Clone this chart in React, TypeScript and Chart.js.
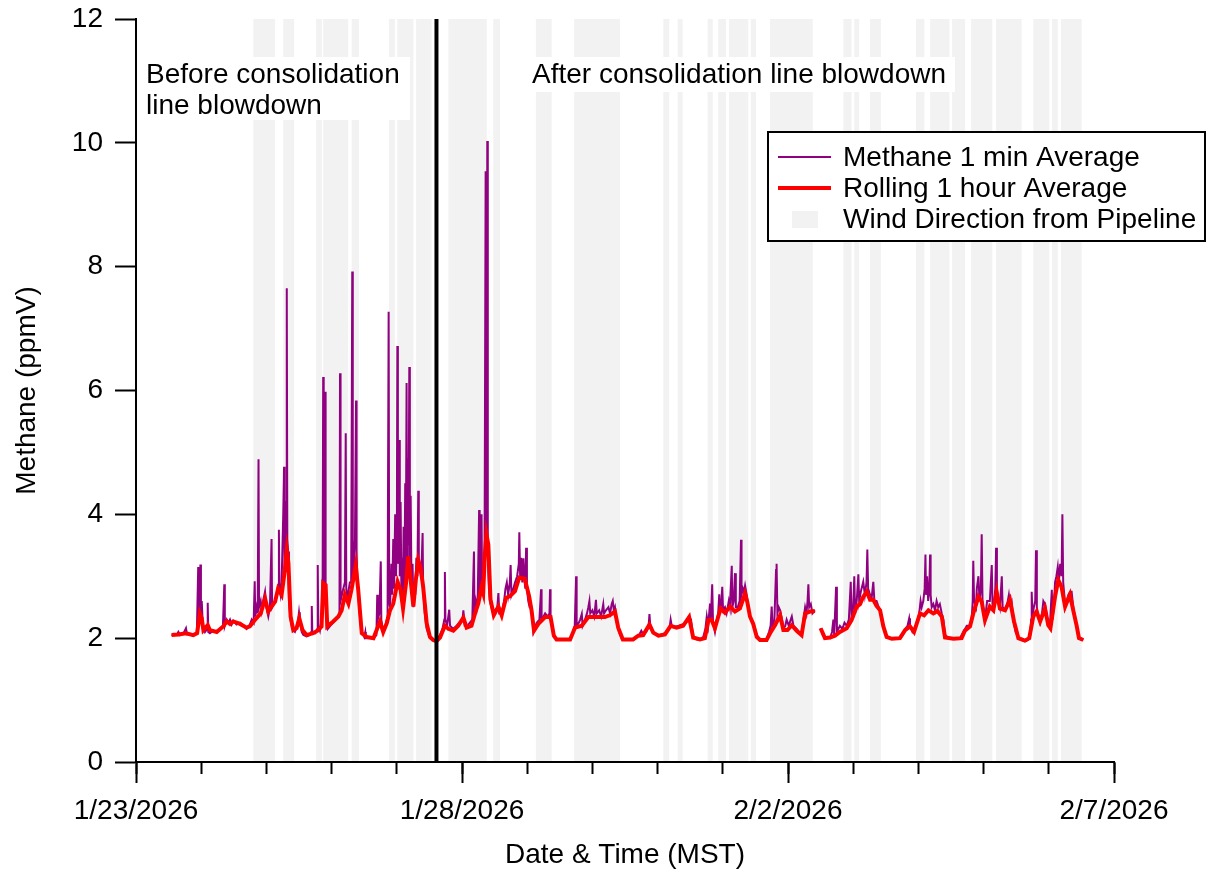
import React, { useEffect, useRef } from 'react';
import { Chart, registerables } from 'chart.js';

Chart.register(...registerables);

const FONT = '"Liberation Sans", Arial, Helvetica, sans-serif';
const PURPLE = 'rgb(144,0,128)';
const RED = '#ff0000';
const BAND_COLOR = '#f2f2f2';

// x values are hours since 1/23/2026 00:00 MST
const X_MIN_HOURS = 0;
const X_MAX_HOURS = 360;
const MAJOR_STEP_HOURS = 120;
const MINOR_STEP_HOURS = 24;
const Y_MIN = 0;
const Y_MAX = 12;
const Y_STEP = 2;
const BLOWDOWN_HOUR = 110.6;
const GAP_HOUR = 251;

const X_TITLE = 'Date & Time (MST)';
const Y_TITLE = 'Methane (ppmV)';
const METHANE_LABEL = 'Methane 1 min Average';
const ROLLING_LABEL = 'Rolling 1 hour Average';
const WIND_LABEL = 'Wind Direction from Pipeline';
const BEFORE_TEXT = ['Before consolidation', 'line blowdown'];
const AFTER_TEXT = ['After consolidation line blowdown'];

// Methane 1 min average [hour, ppmV]
const methaneEarly: [number, number][] = [
  [13.1, 2.04], [14.0, 2.07], [15.0, 2.05], [15.6, 2.1], [16.2, 2.05], [17.5, 2.08], [18.4, 2.16], [18.8, 2.06],
  [20.0, 2.07], [21.1, 2.05], [22.4, 2.1], [22.9, 3.15], [23.1, 2.2], [23.3, 2.9], [23.5, 2.3], [23.7, 3.19],
  [23.9, 2.4], [24.2, 2.6], [24.6, 2.2], [25.4, 2.1], [26.2, 2.15], [26.4, 2.57], [26.6, 2.1], [27.2, 2.08],
  [28.5, 2.12], [29.7, 2.1], [30.8, 2.15], [32.0, 2.2], [32.5, 2.87], [32.7, 2.2], [33.4, 2.3], [34.0, 2.25],
  [34.6, 2.3], [35.2, 2.22], [35.8, 2.28], [37.0, 2.22], [38.3, 2.25], [39.5, 2.2], [40.7, 2.15], [41.9, 2.22],
  [42.6, 2.3], [43.3, 2.25], [43.7, 2.92], [43.9, 2.35], [44.4, 2.5], [44.8, 2.4], [45.1, 4.89], [45.3, 2.5],
  [45.9, 2.6], [46.3, 2.45], [46.8, 2.6], [47.5, 2.75], [48.0, 2.5], [48.7, 2.35], [49.3, 2.5], [49.9, 3.6],
  [50.1, 2.5], [50.6, 2.55], [51.2, 2.6], [51.8, 2.7], [52.3, 2.85], [52.6, 3.75], [52.8, 2.8], [53.2, 2.7],
  [53.6, 2.9], [54.2, 4.0], [54.5, 4.77], [54.7, 3.0], [55.1, 3.3], [55.3, 4.2], [55.5, 7.65], [55.7, 3.6],
  [56.0, 3.4], [56.3, 2.6], [56.9, 2.3], [57.5, 2.15], [58.5, 2.1], [59.4, 2.2], [60.0, 2.42], [60.3, 2.3],
  [61.0, 2.1], [61.6, 2.05], [62.8, 2.03], [64.0, 2.05], [64.5, 2.1], [64.7, 2.52], [64.9, 2.1], [66.0, 2.08],
  [66.7, 2.15], [66.9, 3.18], [67.1, 2.2], [67.7, 2.12], [68.3, 2.3], [68.7, 3.0], [68.9, 6.22], [69.1, 3.0],
  [69.4, 2.7], [69.6, 5.98], [69.8, 2.9], [70.2, 2.4], [70.6, 2.15], [71.5, 2.2], [72.6, 2.25], [73.5, 2.3],
  [74.5, 2.35], [74.9, 2.4], [75.1, 6.28], [75.3, 2.6], [75.8, 2.7], [76.3, 2.8], [76.9, 2.9], [77.2, 5.31],
  [77.4, 2.8], [77.9, 2.6], [78.2, 2.75], [78.7, 2.9], [79.2, 2.9], [79.6, 7.92], [79.8, 3.0], [80.2, 3.2],
  [80.6, 3.6], [81.0, 5.84], [81.2, 3.4], [81.5, 2.9], [81.9, 2.7], [82.5, 2.3], [83.1, 2.1], [84.0, 2.02],
  [84.4, 2.1], [84.6, 2.0], [86.1, 2.0], [87.4, 2.0], [88.5, 2.05], [88.8, 2.7], [89.0, 2.3], [89.6, 2.4],
  [90.1, 3.24], [90.3, 2.3], [91.0, 2.1], [91.8, 2.2], [92.6, 2.35], [93.0, 7.27], [93.2, 2.6], [93.5, 2.5],
  [94.0, 3.2], [94.3, 2.7], [94.7, 3.6], [95.0, 2.8], [95.4, 4.0], [95.7, 3.0], [96.0, 3.5], [96.2, 6.72],
  [96.4, 3.2], [96.7, 3.8], [96.9, 5.2], [97.1, 3.0], [97.4, 4.2], [97.7, 2.7], [98.0, 3.3], [98.2, 2.5],
  [98.5, 3.8], [98.8, 2.8], [99.1, 4.5], [99.3, 3.0], [99.6, 6.12], [99.8, 3.2], [100.0, 4.9], [100.3, 3.5],
  [100.6, 6.38], [100.8, 3.1], [101.1, 4.3], [101.4, 2.8], [101.8, 3.2], [102.1, 2.5], [102.5, 2.9], [102.8, 2.7],
  [103.2, 3.3], [103.6, 3.0], [103.9, 4.38], [104.1, 3.2], [104.5, 3.1], [105.0, 3.0], [105.5, 3.7], [105.7, 2.8],
  [106.3, 2.4], [107.0, 2.15], [108.2, 2.0], [109.4, 1.97], [110.3, 1.95],
];

const methaneLate1: [number, number][] = [
  [110.8, 1.97], [111.9, 2.05], [112.8, 2.15], [113.5, 2.3], [113.7, 3.07], [113.9, 2.3], [114.5, 2.2], [115.3, 2.46],
  [115.6, 2.2], [116.8, 2.15], [118.0, 2.2], [119.0, 2.25], [120.2, 2.3], [120.5, 2.45], [121.0, 2.2], [122.0, 2.2],
  [122.9, 2.25], [123.8, 2.3], [124.4, 3.4], [124.6, 2.4], [125.0, 2.6], [125.4, 2.5], [125.8, 2.7], [126.3, 4.07],
  [126.5, 2.7], [126.9, 2.9], [127.2, 4.0], [127.4, 2.8], [127.8, 2.9], [128.3, 3.2], [128.7, 9.54], [128.9, 3.4],
  [129.1, 3.6], [129.3, 10.03], [129.5, 3.3], [129.9, 2.8], [130.3, 2.6], [130.8, 2.5], [131.5, 2.4], [132.2, 2.45],
  [133.0, 2.5], [133.4, 2.73], [133.7, 2.4], [134.6, 2.4], [135.5, 2.6], [136.0, 2.8], [136.5, 2.9], [137.0, 2.7],
  [137.6, 2.9], [137.9, 3.18], [138.2, 2.7], [138.9, 2.8], [139.5, 2.9], [140.3, 3.0], [140.9, 3.2], [141.1, 3.71],
  [141.4, 3.0], [141.8, 3.3], [142.2, 2.9], [142.6, 3.29], [142.9, 3.0], [143.3, 2.8], [143.6, 3.46], [143.9, 2.8],
  [144.4, 2.6], [144.9, 2.5], [145.5, 2.5], [146.0, 2.3], [146.3, 2.1], [147.0, 2.2], [147.5, 2.25], [148.5, 2.3],
  [149.1, 2.79], [149.3, 2.3], [150.0, 2.35], [150.6, 2.4], [151.5, 2.35], [152.2, 2.4], [152.4, 2.79], [152.6, 2.35],
  [153.2, 2.2], [153.8, 2.05], [154.8, 1.98], [156.5, 1.98], [158.0, 1.98], [159.8, 1.98], [160.8, 2.1], [161.5, 2.2],
  [162.0, 3.0], [162.2, 2.2], [163.0, 2.25], [163.5, 2.3], [164.1, 2.39], [164.4, 2.2], [165.3, 2.3], [166.0, 2.4],
  [166.5, 2.5], [166.9, 2.6], [167.2, 2.4], [168.0, 2.45], [168.7, 2.35], [169.3, 2.62], [169.6, 2.4], [170.5, 2.45],
  [171.2, 2.35], [172.0, 2.55], [172.3, 2.4], [173.0, 2.45], [173.9, 2.5], [174.5, 2.4], [175.1, 2.55], [175.5, 2.6],
  [175.9, 2.45], [176.3, 2.5], [177.0, 2.25], [177.8, 2.1], [178.8, 1.99], [181.0, 1.98], [183.0, 1.98], [184.3, 2.03],
  [185.3, 2.06], [186.0, 2.12], [186.7, 2.06], [187.8, 2.1], [188.7, 2.2], [189.0, 2.39], [189.3, 2.2], [190.3, 2.1],
  [191.7, 2.05], [193.0, 2.05], [194.1, 2.07], [195.5, 2.1], [196.5, 2.2], [196.8, 2.3], [197.2, 2.2], [198.5, 2.18],
  [199.8, 2.2], [201.0, 2.22], [202.5, 2.25], [203.6, 2.35], [204.3, 2.3], [205.1, 2.02], [206.5, 1.98], [207.6, 1.98],
  [208.8, 2.02], [209.6, 2.15], [210.1, 2.35], [210.6, 2.2], [211.3, 2.56], [211.6, 2.3], [212.1, 2.87], [212.4, 2.25],
  [213.1, 2.1], [213.8, 2.3], [214.3, 2.4], [214.7, 2.71], [215.0, 2.4], [215.5, 2.6], [215.8, 2.83], [216.1, 2.45],
  [216.8, 2.5], [217.4, 2.4], [218.2, 2.6], [218.6, 2.5], [219.3, 3.17], [219.5, 2.5], [220.0, 2.6], [220.5, 3.05],
  [220.8, 2.5], [221.5, 2.5], [222.2, 2.6], [222.7, 3.59], [222.9, 2.7], [223.4, 2.8], [223.8, 2.75], [224.2, 2.85],
  [224.8, 2.7], [225.4, 2.5], [226.0, 2.35], [227.2, 2.25], [228.5, 2.05], [229.7, 1.98], [231.0, 1.97], [232.1, 1.98],
  [233.0, 2.1], [233.6, 2.2], [234.0, 2.51], [234.3, 2.2], [235.0, 2.3], [235.6, 3.1], [235.8, 3.2], [236.1, 2.4],
  [236.6, 2.5], [237.1, 2.45], [237.8, 2.3], [238.3, 2.15], [239.0, 2.2], [239.5, 2.3], [240.3, 2.2], [241.0, 2.3],
  [241.4, 2.35], [242.0, 2.2], [243.2, 2.15], [244.0, 2.1], [245.0, 2.05], [245.7, 2.3], [246.3, 2.5], [246.8, 2.4],
  [247.2, 2.6], [247.5, 2.87], [247.8, 2.5], [248.4, 2.55], [249.0, 2.4], [249.9, 2.45],
];

const methaneLate2: [number, number][] = [
  [252.0, 2.16], [252.8, 2.05], [253.6, 2.0], [254.5, 2.02], [255.5, 2.0], [256.2, 2.1], [256.7, 2.3], [257.0, 2.05],
  [257.7, 2.83], [258.0, 2.1], [259.1, 2.2], [260.0, 2.15], [260.8, 2.25], [261.6, 2.2], [262.4, 2.3], [263.1, 2.91],
  [263.4, 2.3], [264.0, 2.5], [264.4, 3.0], [264.7, 2.4], [265.3, 2.6], [265.9, 3.03], [266.2, 2.6], [266.8, 2.75],
  [267.7, 2.91], [268.3, 2.7], [268.9, 2.9], [269.2, 3.43], [269.5, 2.8], [270.2, 2.7], [270.8, 2.65], [271.4, 2.91],
  [271.8, 2.6], [272.6, 2.6], [273.4, 2.5], [273.9, 2.45], [274.6, 2.3], [275.1, 2.2], [276.3, 2.02], [277.5, 2.0],
  [279.5, 1.99], [281.2, 1.99], [282.3, 2.05], [283.1, 2.15], [284.0, 2.2], [284.6, 2.32], [284.9, 2.2], [285.8, 2.1],
  [286.6, 2.15], [287.5, 2.25], [288.3, 2.4], [288.8, 2.6], [289.2, 2.5], [289.8, 2.6], [290.3, 2.8], [290.6, 3.35],
  [290.8, 2.7], [291.2, 3.0], [291.6, 2.6], [292.0, 2.8], [292.3, 3.35], [292.5, 2.7], [292.9, 2.5], [293.5, 2.55],
  [294.1, 2.45], [294.7, 2.6], [295.3, 2.5], [295.9, 2.55], [296.6, 2.4], [297.2, 2.3], [297.8, 2.05], [299.5, 1.99],
  [301.5, 1.99], [303.3, 2.0], [304.5, 2.1], [305.2, 2.15], [305.8, 2.2], [306.8, 2.2], [307.6, 2.3], [308.0, 2.6],
  [308.2, 3.25], [308.5, 2.6], [309.2, 2.5], [309.5, 2.8], [310.1, 3.0], [310.5, 2.6], [311.0, 2.8], [311.3, 3.68],
  [311.6, 2.6], [312.0, 2.4], [312.5, 2.3], [313.3, 2.6], [314.3, 2.6], [315.0, 3.18], [315.3, 2.5], [315.8, 2.5],
  [316.3, 2.8], [316.6, 3.46], [316.9, 2.7], [317.5, 2.6], [318.0, 2.5], [318.7, 3.0], [319.0, 2.5], [319.9, 2.45],
  [320.7, 2.55], [321.3, 2.7], [321.7, 2.55], [322.3, 2.6], [322.9, 2.3], [323.8, 2.1], [324.8, 2.0], [326.0, 1.97],
  [327.2, 1.95], [328.3, 1.97], [329.1, 2.05], [329.5, 2.3], [329.7, 2.75], [330.0, 2.35], [330.5, 2.5], [331.0, 2.6],
  [331.3, 3.42], [331.6, 2.5], [332.1, 2.35], [332.8, 2.25], [333.5, 2.4], [334.0, 2.6], [334.6, 2.55], [335.2, 2.4],
  [335.8, 2.2], [336.4, 2.2], [337.1, 2.78], [337.4, 2.3], [338.0, 2.6], [338.3, 2.9], [338.8, 3.0], [339.3, 3.15],
  [339.7, 2.9], [340.2, 3.2], [340.7, 3.0], [341.0, 4.0], [341.3, 2.9], [341.7, 2.7], [342.0, 2.5], [342.6, 2.6],
  [343.2, 2.7], [343.8, 2.75], [344.4, 2.75], [345.0, 2.5], [345.6, 2.35], [346.3, 2.2], [346.9, 2.02], [347.8, 1.98],
  [348.7, 1.97],
];

// Rolling 1 hour average [hour, ppmV]
const rollingEarly: [number, number][] = [
  [13.1, 2.05], [15.6, 2.06], [18.4, 2.08], [21.1, 2.05], [22.5, 2.08], [23.5, 2.4], [24.2, 2.32], [24.8, 2.13],
  [26.4, 2.21], [27.2, 2.13], [29.7, 2.1], [32.1, 2.19], [33.4, 2.27], [34.6, 2.23], [35.8, 2.27], [38.3, 2.23],
  [40.7, 2.17], [41.9, 2.19], [43.7, 2.29], [45.9, 2.4], [47.5, 2.64], [48.7, 2.43], [49.9, 2.51], [51.2, 2.59],
  [52.3, 2.8], [53.6, 2.7], [54.8, 3.1], [55.5, 3.42], [56.1, 3.21], [56.9, 2.35], [57.9, 2.13], [59.1, 2.16],
  [60.1, 2.32], [61.3, 2.13], [62.8, 2.05], [65.2, 2.08], [67.1, 2.13], [68.3, 2.19], [68.9, 2.89], [69.8, 2.86],
  [70.4, 2.19], [72.6, 2.27], [74.5, 2.35], [75.7, 2.45], [76.9, 2.7], [78.2, 2.56], [79.3, 2.78], [80.9, 3.18],
  [81.8, 2.78], [83.1, 2.08], [84.9, 2.02], [87.4, 2.0], [89.8, 2.27], [91.0, 2.1], [92.3, 2.24], [93.5, 2.45],
  [94.7, 2.56], [96.3, 2.91], [97.4, 2.78], [98.3, 2.48], [99.4, 2.89], [100.2, 3.32], [101.1, 2.94], [102.1, 2.51],
  [103.0, 2.94], [103.9, 3.26], [104.7, 3.15], [105.7, 2.83], [107.0, 2.24], [108.2, 2.02], [109.4, 1.97],
];

const rollingLate1: [number, number][] = [
  [110.6, 1.95], [111.9, 2.01], [113.7, 2.2], [115.0, 2.15], [116.8, 2.12], [118.6, 2.2], [120.5, 2.33], [121.7, 2.17],
  [123.5, 2.2], [124.8, 2.4], [126.0, 2.56], [127.2, 2.82], [127.8, 2.73], [128.4, 3.34], [129.0, 3.68], [129.7, 3.51],
  [130.5, 2.62], [131.7, 2.37], [133.4, 2.51], [134.6, 2.37], [136.2, 2.65], [137.7, 2.68], [139.5, 2.76], [141.1, 2.98],
  [143.1, 2.96], [144.7, 2.68], [145.6, 2.45], [146.5, 2.12], [148.1, 2.23], [150.6, 2.34], [152.6, 2.34], [153.8, 2.04],
  [154.8, 1.98], [159.8, 1.98], [161.6, 2.17], [164.1, 2.2], [166.5, 2.34], [169.5, 2.34], [172.6, 2.34], [174.4, 2.37],
  [176.3, 2.43], [177.5, 2.17], [179.2, 1.98], [183.0, 1.98], [184.9, 2.04], [186.7, 2.05], [189.0, 2.22], [190.4, 2.09],
  [192.3, 2.04], [194.7, 2.06], [196.8, 2.2], [199.0, 2.17], [201.4, 2.2], [203.6, 2.34], [205.1, 2.01], [207.6, 1.98],
  [209.4, 2.0], [210.7, 2.29], [211.8, 2.3], [213.1, 2.16], [215.2, 2.48], [216.8, 2.41], [218.7, 2.51], [220.5, 2.43],
  [222.3, 2.48], [224.2, 2.72], [225.0, 2.59], [226.0, 2.35], [227.2, 2.23], [228.5, 2.02], [229.7, 1.97], [232.1, 1.97],
  [233.4, 2.08], [235.2, 2.21], [237.1, 2.37], [238.3, 2.13], [239.8, 2.13], [241.4, 2.21], [243.2, 2.12], [245.0, 2.05],
  [246.3, 2.4], [248.1, 2.43], [249.9, 2.44],
];

const rollingLate2: [number, number][] = [
  [252.0, 2.16], [253.6, 2.0], [255.5, 2.01], [257.3, 2.04], [259.1, 2.1], [261.6, 2.16], [263.4, 2.29], [265.3, 2.51],
  [266.5, 2.55], [267.7, 2.67], [269.0, 2.75], [270.2, 2.62], [271.4, 2.62], [272.6, 2.52], [273.9, 2.45], [275.1, 2.19],
  [276.3, 2.02], [278.2, 1.99], [281.2, 2.0], [283.1, 2.13], [284.9, 2.19], [286.4, 2.1], [288.6, 2.4], [290.1, 2.37],
  [291.7, 2.45], [293.5, 2.4], [295.0, 2.44], [296.6, 2.35], [297.8, 2.01], [300.9, 1.99], [303.9, 2.0], [305.1, 2.12],
  [307.0, 2.19], [308.2, 2.4], [310.1, 2.67], [311.3, 2.59], [312.5, 2.29], [314.3, 2.51], [315.6, 2.45], [316.8, 2.75],
  [318.0, 2.48], [319.9, 2.45], [321.7, 2.62], [323.2, 2.27], [324.8, 2.0], [327.2, 1.96], [328.8, 2.0], [330.3, 2.35],
  [331.5, 2.43], [332.8, 2.27], [334.6, 2.48], [335.8, 2.21], [336.6, 2.16], [338.3, 2.67], [339.5, 2.94], [340.7, 2.83],
  [342.0, 2.51], [343.8, 2.7], [345.0, 2.45], [346.3, 2.19], [347.1, 2.0], [348.7, 1.97],
];

// Periods with wind direction from the pipeline [start hour, end hour]
const windBands: [number, number][] = [
  [43.2, 51.2], [54.2, 58.2], [66.3, 68.4], [68.9, 78.1], [79.4, 82.1], [93.1, 95.3], [96.2, 102.1], [103.1, 108.8],
  [115.0, 129.1], [131.5, 134.0], [147.2, 153.0], [161.3, 178.2], [194.1, 196.3], [199.4, 201.2], [210.4, 212.3],
  [214.3, 217.2], [218.3, 225.4], [226.3, 228.2], [233.4, 249.1], [260.4, 263.4], [264.4, 266.2], [270.2, 274.2],
  [287.1, 290.2], [292.3, 299.4], [300.4, 305.2], [307.4, 315.2], [316.6, 326.0], [330.3, 336.2], [337.2, 339.3],
  [340.5, 348.1],
];

function formatDateTick(value: number): string {
  const d = new Date(Date.UTC(2026, 0, 23) + value * 3600 * 1000);
  return `${d.getUTCMonth() + 1}/${d.getUTCDate()}/${d.getUTCFullYear()}`;
}

const toPoints = (arr: [number, number][]) => arr.map(([x, y]) => ({ x, y }));

const backgroundPlugin = {
  id: 'windBandsAndNotes',
  beforeDraw(chart: any) {
    const { ctx, chartArea, scales } = chart;
    const x = scales.x;
    ctx.save();
    ctx.fillStyle = BAND_COLOR;
    for (const [s, e] of windBands) {
      const x0 = x.getPixelForValue(s);
      const x1 = x.getPixelForValue(e);
      ctx.fillRect(x0, chartArea.top, x1 - x0, chartArea.bottom - chartArea.top - 1);
    }
    // annotation boxes
    ctx.fillStyle = '#ffffff';
    ctx.fillRect(chartArea.left + 4, chartArea.top + 38, 270, 63);
    ctx.fillRect(chartArea.left + 389, chartArea.top + 38, 430, 35);
    ctx.fillStyle = '#000000';
    ctx.font = `28px ${FONT}`;
    ctx.textBaseline = 'alphabetic';
    ctx.textAlign = 'left';
    BEFORE_TEXT.forEach((t, i) => ctx.fillText(t, chartArea.left + 10, chartArea.top + 64 + i * 30.5));
    AFTER_TEXT.forEach((t, i) => ctx.fillText(t, chartArea.left + 396, chartArea.top + 64 + i * 30.5));
    ctx.restore();
  },
};

const blowdownPlugin = {
  id: 'blowdownLine',
  afterDatasetsDraw(chart: any) {
    const { ctx, chartArea, scales } = chart;
    const px = scales.x.getPixelForValue(BLOWDOWN_HOUR);
    ctx.save();
    ctx.strokeStyle = '#000';
    ctx.lineWidth = 4;
    ctx.beginPath();
    ctx.moveTo(px, chartArea.top);
    ctx.lineTo(px, chartArea.bottom);
    ctx.stroke();
    ctx.restore();
  },
};

const legendPlugin = {
  id: 'boxLegend',
  afterDraw(chart: any) {
    const { ctx } = chart;
    const left = 768;
    const top = 132;
    const w = 437;
    const h = 109;
    ctx.save();
    ctx.fillStyle = '#fff';
    ctx.fillRect(left, top, w, h);
    ctx.strokeStyle = '#000';
    ctx.lineWidth = 2;
    ctx.strokeRect(left, top, w, h);
    const ds = chart.data.datasets;
    const methane = ds.find((d: any) => d.label === METHANE_LABEL);
    const rolling = ds.find((d: any) => d.label === ROLLING_LABEL);
    const rows = [
      { label: METHANE_LABEL, color: methane.borderColor, width: 2 },
      { label: ROLLING_LABEL, color: rolling.borderColor, width: 4 },
    ];
    rows.forEach((r, i) => {
      const y = 157 + i * 31;
      ctx.strokeStyle = r.color;
      ctx.lineWidth = r.width;
      ctx.beginPath();
      ctx.moveTo(778, y);
      ctx.lineTo(831, y);
      ctx.stroke();
    });
    ctx.fillStyle = BAND_COLOR;
    ctx.fillRect(792, 211, 26, 17);
    ctx.fillStyle = '#000';
    ctx.font = `28px ${FONT}`;
    ctx.textBaseline = 'alphabetic';
    ctx.textAlign = 'left';
    [METHANE_LABEL, ROLLING_LABEL, WIND_LABEL].forEach((t, i) => {
      ctx.fillText(t, 843, 166 + i * 31);
    });
    ctx.restore();
  },
};

export default function App() {
  const canvasRef = useRef<HTMLCanvasElement>(null);

  useEffect(() => {
    const canvas = canvasRef.current;
    if (!canvas) return;
    const gap = { x: GAP_HOUR, y: null as any };
    const methaneData = [...toPoints(methaneEarly), ...toPoints(methaneLate1), gap, ...toPoints(methaneLate2)];
    const rollingData = [...toPoints(rollingEarly), ...toPoints(rollingLate1), gap, ...toPoints(rollingLate2)];

    const tickFont = { family: FONT, size: 28, lineHeight: 1.2 };

    const chart = new Chart(canvas, {
      type: 'line',
      data: {
        datasets: [
          {
            label: ROLLING_LABEL,
            data: rollingData,
            borderColor: RED,
            backgroundColor: RED,
            borderWidth: 4,
            pointRadius: 0,
            tension: 0,
            spanGaps: false,
            order: 0,
            xAxisID: 'x',
            yAxisID: 'y',
          },
          {
            label: METHANE_LABEL,
            data: methaneData,
            borderColor: PURPLE,
            backgroundColor: PURPLE,
            borderWidth: 2,
            pointRadius: 0,
            tension: 0,
            spanGaps: false,
            order: 1,
            xAxisID: 'x',
            yAxisID: 'y',
          },
        ],
      },
      options: {
        animation: false,
        responsive: true,
        maintainAspectRatio: false,
        events: [],
        layout: { padding: { top: 19, right: 95, left: 0, bottom: 0 } },
        plugins: {
          legend: { display: false },
          tooltip: { enabled: false },
        },
        scales: {
          x: {
            type: 'linear',
            position: 'bottom',
            min: X_MIN_HOURS,
            max: X_MAX_HOURS,
            weight: 1,
            afterFit: (s: any) => {
              s.height = 107;
            },
            ticks: {
              stepSize: MAJOR_STEP_HOURS,
              autoSkip: false,
              maxRotation: 0,
              padding: 11,
              color: '#000',
              font: tickFont,
              callback: (v: any) => formatDateTick(Number(v)),
            },
            grid: {
              drawOnChartArea: false,
              drawTicks: true,
              tickLength: 21,
              tickWidth: 2,
              tickColor: '#000',
            },
            border: { display: true, color: '#000', width: 2 },
            title: {
              display: true,
              text: X_TITLE,
              color: '#000',
              font: { family: FONT, size: 28, lineHeight: 1 },
              padding: { top: 0, bottom: 0 },
            },
          },
          x2: {
            type: 'linear',
            position: 'bottom',
            min: X_MIN_HOURS,
            max: X_MAX_HOURS,
            weight: 0,
            afterFit: (s: any) => {
              s.height = 0;
            },
            ticks: { display: false, stepSize: MINOR_STEP_HOURS, autoSkip: false, maxTicksLimit: 100 },
            grid: {
              drawOnChartArea: false,
              drawTicks: true,
              tickLength: 12,
              tickWidth: 2,
              tickColor: '#000',
            },
            border: { display: false },
          },
          y: {
            type: 'linear',
            position: 'left',
            min: Y_MIN,
            max: Y_MAX,
            afterFit: (s: any) => {
              s.width = 136;
              s.paddingTop = 0;
              s.paddingBottom = 0;
            },
            ticks: {
              stepSize: Y_STEP,
              padding: 12,
              color: '#000',
              font: tickFont,
            },
            grid: {
              drawOnChartArea: false,
              drawTicks: true,
              tickLength: 21,
              tickWidth: 2,
              tickColor: '#000',
            },
            border: { display: true, color: '#000', width: 2 },
            title: {
              display: true,
              text: Y_TITLE,
              color: '#000',
              font: { family: FONT, size: 28, lineHeight: 1 },
              padding: { top: 13, bottom: 0 },
            },
          },
        },
      },
      plugins: [backgroundPlugin, blowdownPlugin, legendPlugin],
    } as any);

    return () => chart.destroy();
  }, []);

  return (
    <div style={{ position: 'absolute', left: 0, top: 0, width: 1209, height: 869, background: '#fff' }}>
      <canvas ref={canvasRef} />
    </div>
  );
}
